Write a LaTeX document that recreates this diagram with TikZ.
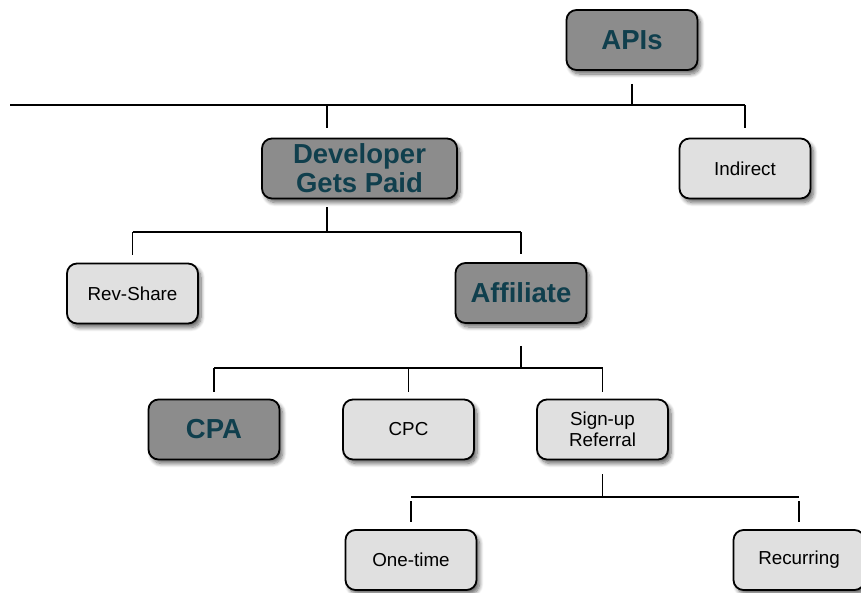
\documentclass[tikz,border=0pt]{standalone}
\usepackage{fontspec}
\setmainfont{Liberation Sans}
\usetikzlibrary{shadows.blur}

\definecolor{boxdark}{HTML}{8C8C8C}
\definecolor{boxlight}{HTML}{E0E0E0}
\definecolor{textdark}{HTML}{103F4D}

\tikzset{
  box/.style={draw=black, line width=1.8pt, rounded corners=10pt, align=center,
    minimum width=131pt, minimum height=60pt, inner sep=0pt,
    blur shadow={shadow xshift=3pt, shadow yshift=-4pt, shadow blur steps=8,
      shadow blur radius=4pt, shadow opacity=60}},
  darkbox/.style={box, fill=boxdark, text=textdark,
    font=\bfseries\fontsize{27.5}{29}\selectfont},
  lightbox/.style={box, fill=boxlight, text=black,
    font=\fontsize{18.8}{21}\selectfont},
  wire/.style={line width=1.5pt}
}

\begin{document}
\begin{tikzpicture}[x=1pt, y=-1pt]
  \useasboundingbox (0,0) rectangle (861,592);

  % top level
  \node[darkbox] (apis) at (632, 40) {APIs};

  \node[darkbox, minimum width=195pt] (dev) at (359.5, 168.5) {Developer\\Gets Paid};
  \node[lightbox] (indirect) at (745, 168.5) {Indirect};

  \node[lightbox] (rev) at (132.5, 293.5) {Rev-Share};
  \node[darkbox] (aff) at (521, 293) {Affiliate};

  \node[darkbox] (cpa) at (214, 429.5) {CPA};
  \node[lightbox] (cpc) at (408.5, 429.5) {CPC};
  \node[lightbox] (signup) at (602.5, 429.5) {Sign-up\\Referral};

  \node[lightbox] (onetime) at (411, 560) {One-time};
  \node[lightbox] (recur) at (799, 560) {Recurring};

  % bus lines
  \coordinate (busa) at (10, 105);
  \coordinate (busb) at (0, 232);
  \coordinate (busc) at (0, 368);
  \coordinate (busd) at (0, 497);
  \coordinate (devx) at ([xshift=-32.5pt]dev.north);

  % APIs
  \draw[wire] ([yshift=-13pt]apis.south) -- (apis.south |- busa);
  \draw[wire] (busa) -- (busa -| indirect.north);
  \draw[wire] (devx |- busa) -- ([yshift=10pt]devx);
  \draw[wire] (indirect.north |- busa) -- ([yshift=10pt]indirect.north);

  % Developer Gets Paid
  \draw[wire] ([yshift=-8pt]devx |- dev.south) -- (devx |- busb);
  \draw[wire] (rev.north |- busb) -- (aff.north |- busb);
  \draw[wire] (rev.north |- busb) -- ([yshift=8pt]rev.north);
  \draw[wire] (aff.north |- busb) -- ([yshift=8pt]aff.north);

  % Affiliate
  \draw[wire] ([yshift=-22pt]aff.south) -- (aff.south |- busc);
  \draw[wire] (cpa.north |- busc) -- (signup.north |- busc);
  \draw[wire] (cpa.north |- busc) -- ([yshift=7pt]cpa.north);
  \draw[wire] (cpc.north |- busc) -- ([yshift=7pt]cpc.north);
  \draw[wire] (signup.north |- busc) -- ([yshift=7pt]signup.north);

  % Sign-up Referral
  \draw[wire] ([yshift=-14pt]signup.south) -- (signup.south |- busd);
  \draw[wire] (onetime.north |- busd) -- (recur.north |- busd);
  \draw[wire] ([yshift=-4pt]onetime.north |- busd) -- ([yshift=7pt]onetime.north);
  \draw[wire] ([yshift=-4pt]recur.north |- busd) -- ([yshift=7pt]recur.north);
\end{tikzpicture}
\end{document}
